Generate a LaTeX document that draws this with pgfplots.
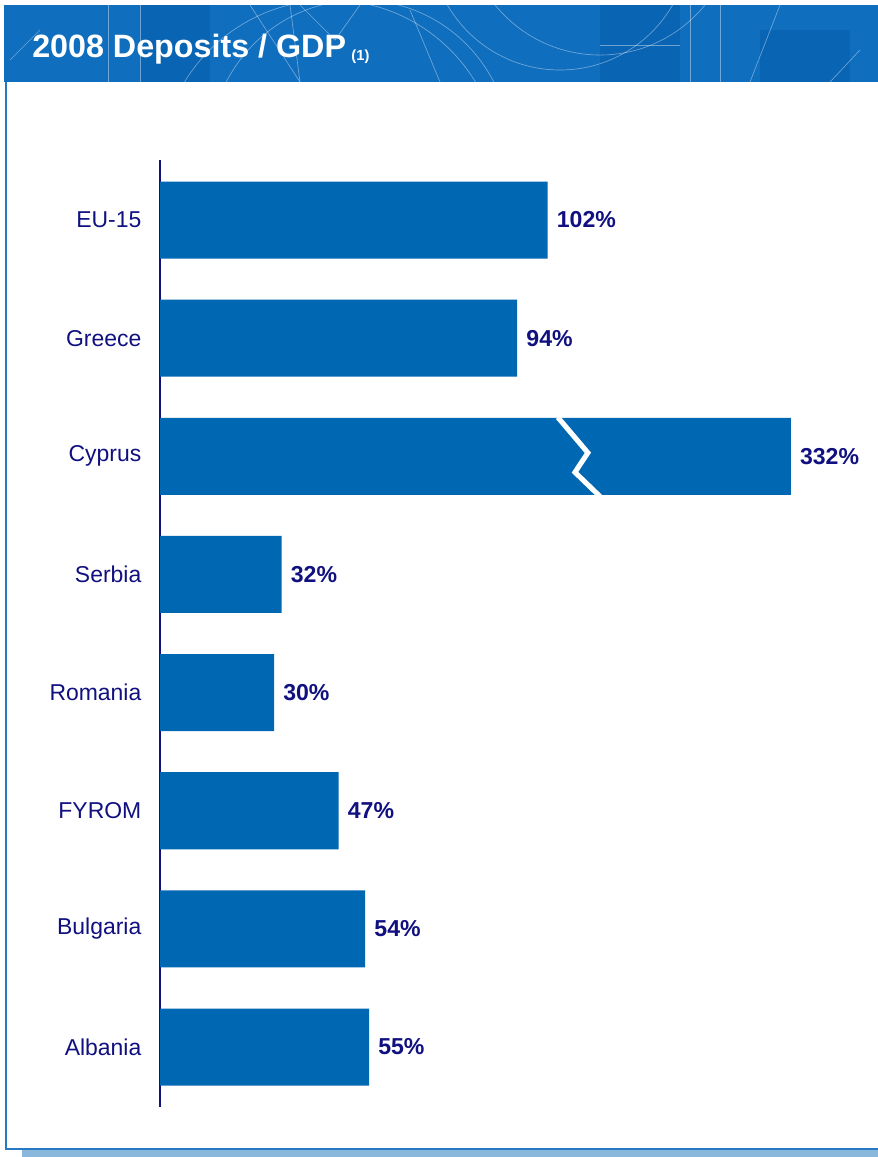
\documentclass[border=0pt]{standalone}
\usepackage{pgfplots}
\pgfplotsset{compat=1.18}
\usepackage{pgfplotstable}
\usepackage{fontspec}
\setmainfont{Liberation Sans}
\definecolor{barblue}{RGB}{0,104,179}
\definecolor{navy}{RGB}{16,16,128}
\definecolor{banner}{RGB}{16,110,190}
\definecolor{bannerdark}{RGB}{10,100,180}
\definecolor{panelblue}{RGB}{40,120,196}
\definecolor{shadowblue}{RGB}{138,184,221}
\pgfplotstableread{
idx len val
0 102 102
1 94 94
2 166 332
3 32 32
4 30 30
5 47 47
6 54 54
7 55 55
}\data
\begin{document}
\begin{tikzpicture}
\useasboundingbox (0,0) rectangle (658.5pt,-867.75pt);
\begin{scope}[x=0.75pt,y=-0.75pt]
  % shadow and panel
  \fill[shadowblue] (22,1149) rectangle (880,1157);
  \draw[panelblue, line width=1.5pt, fill=white] (6,80) rectangle (884,1149);
  % banner
  \fill[banner] (4,5) rectangle (880,82);
  \begin{scope}
    \clip (4,5) rectangle (880,82);
    \fill[bannerdark] (140,5) rectangle (210,82);
    \fill[bannerdark] (600,5) rectangle (680,82);
    \fill[bannerdark] (760,30) rectangle (850,82);
    \begin{scope}[white, opacity=0.4, line width=0.5pt]
    \draw (330,170) circle (170);
    \draw (360,150) circle (150);
    \draw (560,-60) circle (130);
    \draw (600,-80) circle (135);
    \draw (250,5) -- (300,82);
    \draw (108,5) -- (108,82);
    \draw (140,5) -- (140,82);
    \draw (290,5) -- (300,82);
    \draw (410,10) -- (440,82);
    \draw (300,5) -- (335,40) -- (360,5);
    \draw (690,5) -- (690,82);
    \draw (720,5) -- (720,82);
    \draw (780,5) -- (750,82);
    \draw (600,45) -- (680,45);
    \draw (10,60) -- (40,30);
    \draw (830,82) -- (860,50);
    \end{scope}
  \end{scope}
  \node[anchor=base west, inner sep=0pt, text=white, font=\bfseries\fontsize{24.2}{28}\selectfont] at (32,57) {2008 Deposits / GDP\,\raisebox{-2.5pt}{\fontsize{11}{12}\selectfont (1)}};
\end{scope}
\begin{axis}[
  at={(120pt,-120pt)}, anchor=north west,
  scale only axis, width=532.95pt, height=710.25pt,
  xbar, bar shift=0pt, bar width=0.652,
  xmin=0, xmax=187, ymin=-0.508, ymax=7.508,
  y dir=reverse,
  axis x line=none, axis y line*=left,
  y axis line style={navy, line width=0.9pt},
  ytick=data,
  yticklabels={EU-15,Greece,Cyprus,Serbia,Romania,FYROM,Bulgaria,Albania},
  major tick length=0pt,
  yticklabel style={text=navy, font=\fontsize{17.2}{20}\selectfont, xshift=-10.5pt},
  /pgf/number format/assume math mode=true,
  nodes near coords={\pgfmathprintnumber{\pgfplotspointmeta}\%},
  nodes near coords style={text=navy, font=\bfseries\fontsize{17.3}{20}\selectfont, anchor=west, inner sep=0pt, xshift=6.75pt},
  point meta=explicit,
  clip=false,
]
\addplot[fill=barblue, draw=none] table[x=len, y=idx, meta=val] {\data};
\draw[white, line width=3.8pt] (axis cs:104.7,1.67) -- (axis cs:112.6,1.97) -- (axis cs:109.2,2.135) -- (axis cs:115.8,2.34);
\end{axis}
\end{tikzpicture}
\end{document}
